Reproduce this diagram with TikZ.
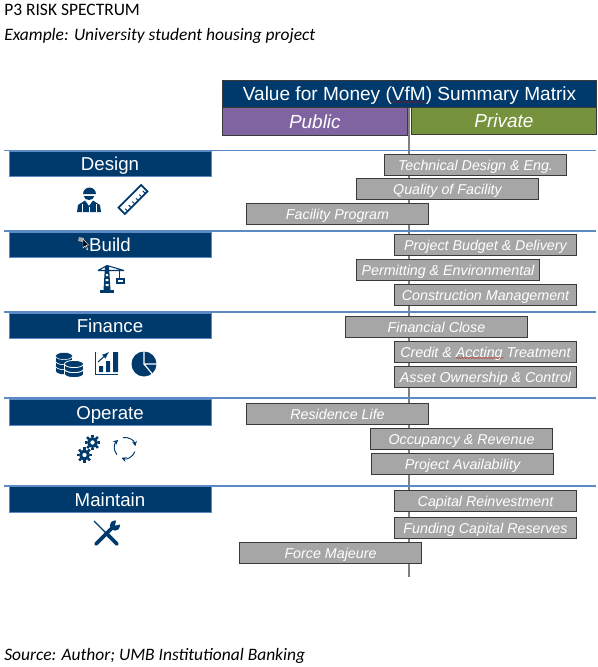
\documentclass[tikz,border=0pt]{standalone}
\usepackage{fontspec}
\setmainfont{Liberation Sans}
\newfontfamily\notefont{Carlito}
\usetikzlibrary{arrows,calc,decorations.pathmorphing}
\definecolor{navy}{HTML}{003A6C}
\definecolor{rulecol}{HTML}{5B8AC6}
\definecolor{barfill}{HTML}{A6A6A6}
\definecolor{barline}{HTML}{3A3A3A}
\definecolor{publiccol}{HTML}{8064A2}
\definecolor{privatecol}{HTML}{76923C}
\tikzset{
  notetext/.style={anchor=base west, inner sep=0pt, font=\notefont\fontsize{13.1}{15}\selectfont},
  noteitalic/.style={notetext, font=\notefont\itshape\fontsize{13.1}{15}\selectfont},
  headbox/.style={draw=barline, line width=.8pt, anchor=north west, minimum height=20.2pt, inner sep=0pt, text=white, text height=10pt, text depth=0pt},
  phasebox/.style={draw=rulecol, fill=navy, text=white, line width=.6pt, minimum width=151.5pt, minimum height=19.2pt, inner sep=0pt, text height=9.8pt, text depth=0pt, font=\fontsize{14}{16}\selectfont},
  riskbar/.style={draw=barline, fill=barfill, text=white, line width=.9pt, minimum width=137pt, minimum height=16.2pt, inner sep=0pt, text height=7.8pt, text depth=0pt, font=\itshape\fontsize{10.7}{12}\selectfont},
  icon/.style={fill=navy, draw=none},
  squiggle/.style={draw=red!75!black, line width=.3pt, decorate, decoration={snake, amplitude=.3pt, segment length=2pt}},
}
\begin{document}
\begin{tikzpicture}[x=.75pt, y=-.75pt]
  \useasboundingbox (0,0) rectangle (598,667);

  \node[notetext] (title) at (4,15.5) {P3 RISK SPECTRUM};
  \node[noteitalic] (example) at (4,41) {Example: University student housing project};
  \node[noteitalic] (source) at (4,660) {Source: Author; UMB Institutional Banking};

  % centre axis
  \coordinate (axistop) at (409,107);
  \coordinate (axisbottom) at (409,577);
  \draw[gray, line width=1pt] (axistop) -- (axisbottom);

  % matrix header
  \node[headbox, fill=navy, minimum width=280.5pt, font=\fontsize{14.3}{16}\selectfont] (matrix) at (222,80) {Value for Money (VfM) Summary Matrix};
  \node[headbox, fill=publiccol, minimum width=138.5pt, minimum height=21pt, font=\itshape\fontsize{14.2}{16}\selectfont] (public) at (222,107) {Public};
  \node[headbox, fill=privatecol, minimum width=138.5pt, font=\itshape\fontsize{14.2}{16}\selectfont] (private) at (411,107) {Private};
  \draw[squiggle] (391,102) -- (425,102);

  % phase rows
  \foreach \name/\yrule/\ybox/\txt in {design/150.5/164/Design, build/231/245/Build, finance/312/326/Finance, operate/398/412.5/Operate, maintain/486/499.5/Maintain}{
    \coordinate (\name west) at (4,\yrule);
    \coordinate (\name east) at (596,\yrule);
    \draw[rulecol, line width=1pt] (\name west) -- (\name east);
    \node[phasebox] (\name) at (110,\ybox) {\txt};
  }

  % risk bars
  \foreach \name/\xc/\yc/\txt in {
    tech/475.5/165/Technical Design \& Eng.,
    quality/447.5/189/Quality of Facility,
    program/337.5/214/Facility Program,
    budget/485.5/245/Project Budget \& Delivery,
    permit/448/270/Permitting \& Environmental,
    construct/485.5/295/Construction Management,
    close/436.5/327/Financial Close,
    credit/485.5/352/Credit \& Accting Treatment,
    asset/485.5/377/Asset Ownership \& Control,
    residence/337.5/414/Residence Life,
    occupancy/461.5/439/Occupancy \& Revenue,
    avail/462.5/464/Project Availability,
    reinvest/485.5/501/Capital Reinvestment,
    reserves/485.5/528/Funding Capital Reserves,
    majeure/330.5/553/Force Majeure}{
    \node[riskbar] (\name) at (\xc,\yc) {\txt};
  }
  \draw[squiggle] (456,358) -- (504,358);

  % cursor on Build
  \fill[gray!70] (79,237) -- (84,238) -- (83,242) -- (78,241) -- cycle;
  \draw[white, fill=black, line width=.3pt] (83,239) -- (83,248) -- (85,246) -- (87,250) -- (88,249) -- (86,245.5) -- (88.5,245) -- cycle;

  % worker
  \fill[icon] (83,194) arc (180:360:6.5) -- cycle;
  \fill[icon] (84,196) -- (94,196) -- (94,196.5) arc (0:180:5 and 3.5) -- cycle;
  \fill[icon] (77,212) -- (78,205) -- (85,200.5) -- (89,206) -- (93,200.5) -- (100,205) -- (101,212) -- cycle;
  \draw[white, line width=.5pt] (82,212) -- (82,204) (96,212) -- (96,204) (89,207) -- (89,212);

  % ruler
  \begin{scope}[shift={(133,199.5)}, rotate=45]
    \draw[navy, line width=1.3pt] (-16,-4.5) rectangle (16,4.5);
    \foreach \t in {-12,-7,-2,3,8,13}{\draw[navy, line width=.7pt] (\t,4.5) -- (\t,1);}
  \end{scope}

  % crane
  \fill[icon] (100,290) rectangle (114,292.5);
  \fill[icon] (105,266) -- (109,266) -- (110.5,290) -- (103.5,290) -- cycle;
  \fill[white] (105.8,274) rectangle (108.2,276) (105.7,279) rectangle (108.3,281) (105.5,284) rectangle (108.5,286);
  \draw[navy, line width=.8pt] (98,270.5) -- (124,270.5) (98,270.5) -- (107,265.5) -- (124,270.5);
  \draw[navy, line width=.7pt] (119,271) -- (119,279);
  \draw[navy, line width=.9pt] (117,279) rectangle (124,283);

  % coins
  \foreach \cx/\cy in {64/368, 64/363, 64/358}{
    \draw[icon, draw=white, line width=.4pt] (\cx-8.5,\cy-2) -- (\cx-8.5,\cy+3) arc (180:0:8.5 and 3.6) -- (\cx+8.5,\cy-2) -- cycle;
    \draw[icon, draw=white, line width=.4pt] (\cx,\cy-2) circle [x radius=8.5, y radius=3.6];
  }
  \foreach \cx/\cy in {74/371, 74/366}{
    \draw[icon, draw=white, line width=.6pt] (\cx-9.5,\cy-2) -- (\cx-9.5,\cy+3) arc (180:0:9.5 and 3.6) -- (\cx+9.5,\cy-2) -- cycle;
    \draw[icon, draw=white, line width=.6pt] (\cx,\cy-2) circle [x radius=9.5, y radius=3.6];
  }

  % chart
  \draw[navy, line width=1pt] (95.5,352) -- (95.5,374.5) -- (118,374.5);
  \fill[icon] (99,366) rectangle (103,372) (106,361) rectangle (110,372) (113,352) rectangle (118,372);
  \draw[navy, line width=.8pt, -latex] (98,362) -- (109,352);

  % pie
  \fill[icon] (144,364) circle [radius=12.5];
  \draw[white, line width=.9pt] (144,350) -- (144,364) -- (158,364) (144,364) -- (154,376);

  % gears
  \foreach \gx/\gy/\gr in {92.5/442.5/5.2, 84.5/455/5.2}{
    \foreach \a in {0,45,...,315}{
      \fill[navy] (\gx,\gy) ++(\a-14:\gr) -- ++(\a:2.6) -- ++(\a+90:2.4) -- ++(\a+180:2.6) -- cycle;
    }
    \fill[even odd rule, navy] (\gx,\gy) circle [radius=\gr+.3] (\gx,\gy) circle [radius=2.3];
  }

  % cycle
  \foreach \a in {20,140,260}{
    \draw[navy, line width=.7pt, -stealth] ($(125,448)+(\a:10.5)$) arc (\a:\a+90:10.5);
  }

  % tools
  \draw[navy, line width=2.8pt, line cap=round] (96,544) -- (112,528);
  \fill[icon] (115,525.5) circle [radius=5.2];
  \fill[white] (115,525.5) -- (116.5,519) -- (122,519) -- (122,524) -- cycle;
  \draw[navy, line width=.9pt] (94,521) -- (106,533);
  \draw[navy, line width=2.8pt, line cap=round] (106,533) -- (117,544);
\end{tikzpicture}
\end{document}
